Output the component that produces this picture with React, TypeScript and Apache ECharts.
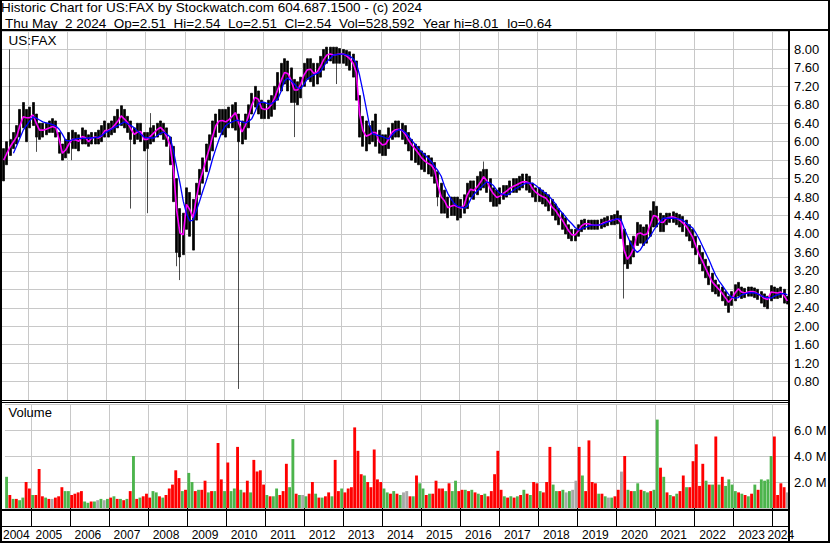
import React, { useEffect, useRef } from "react";
import * as echarts from "echarts";

// ---- categories: one per month, May 2004 .. May 2024 ----
const START_YEAR = 2004;
const START_MONTH = 5;
const MONTH_COUNT = 241;
const months: string[] = Array.from({ length: MONTH_COUNT }, (_, i) => {
  const t = START_MONTH - 1 + i;
  const y = START_YEAR + Math.floor(t / 12);
  const m = (t % 12) + 1;
  return `${y}-${m < 10 ? "0" + m : m}`;
});

// month at which each year's label is centred (visible part of the year)
const yearLabelMonths = [
  "2004-08", "2005-06", "2006-06", "2007-06", "2008-06", "2009-06", "2010-06",
  "2011-06", "2012-06", "2013-06", "2014-06", "2015-06", "2016-06", "2017-06",
  "2018-06", "2019-06", "2020-06", "2021-06", "2022-06", "2023-06", "2024-03",
];

// ---- monthly price band ----
const hi = [
  5.85, 6.0, 6.05, 6.2, 6.35, 6.7, 6.85, 6.7,
  6.75, 6.85, 6.6, 6.4, 6.4, 6.4, 6.45, 6.5, 6.45, 6.2, 5.95, 6.05,
  6.2, 6.25, 6.2, 6.15, 6.3, 6.25, 6.15, 6.2, 6.2, 6.25, 6.35, 6.45,
  6.4, 6.45, 6.55, 6.7, 6.78, 6.7, 6.55, 6.45, 6.3, 6.4, 6.4, 6.2,
  6.2, 6.3, 6.35, 6.4, 6.45, 6.4, 6.3, 6.1, 5.9, 5.2, 4.55, 4.45,
  5.0, 4.9, 4.75, 5.1, 5.4, 5.65, 5.95, 6.15, 6.45, 6.6, 6.7, 6.7,
  6.7, 6.75, 6.8, 6.85, 6.6, 6.45, 6.6, 6.8, 7.05, 7.2, 7.1, 6.9,
  6.85, 6.9, 7.0, 7.2, 7.5, 7.7, 7.8, 7.75, 7.6, 7.35, 7.3, 7.4,
  7.7, 7.8, 7.8, 7.7, 7.7, 7.85, 8.0, 8.05, 8.05, 8.05, 8.05, 8.02,
  8.0, 7.98, 7.95, 7.9, 7.75, 7.0, 6.55, 6.45, 6.35, 6.45, 6.6, 6.25,
  6.15, 6.15, 6.3, 6.4, 6.45, 6.45, 6.4, 6.35, 6.2, 6.05, 5.95, 5.9,
  5.8, 5.75, 5.7, 5.65, 5.55, 5.35, 5.1, 4.95, 4.8, 4.8, 4.8, 4.8,
  4.75, 4.85, 5.1, 5.15, 5.15, 5.25, 5.35, 5.4, 5.4, 5.2, 5.0, 4.95,
  5.0, 5.05, 5.05, 5.15, 5.2, 5.2, 5.25, 5.3, 5.3, 5.25, 5.1, 5.0,
  5.0, 4.95, 4.9, 4.85, 4.75, 4.65, 4.55, 4.45, 4.35, 4.2, 4.1, 4.1,
  4.2, 4.3, 4.32, 4.3, 4.3, 4.3, 4.3, 4.32, 4.35, 4.38, 4.4, 4.42,
  4.5, 4.4, 4.1, 3.75, 3.85, 3.95, 4.25, 4.2, 4.15, 4.2, 4.5, 4.7,
  4.6, 4.45, 4.4, 4.45, 4.45, 4.48, 4.45, 4.42, 4.38, 4.3, 4.2, 4.1,
  3.95, 3.75, 3.6, 3.45, 3.3, 3.15, 3.0, 2.9, 2.85, 2.75, 2.65, 2.75,
  2.9, 2.95, 2.85, 2.82, 2.85, 2.85, 2.83, 2.8, 2.75, 2.7, 2.65, 2.88,
  2.85, 2.82, 2.85, 2.8, 2.65,
];
const lo = [
  5.15, 5.5, 5.7, 5.85, 5.95, 6.1, 6.3, 6.0,
  6.3, 6.35, 6.1, 6.05, 6.1, 6.15, 6.2, 6.2, 6.1, 5.75, 5.6, 5.65,
  5.75, 5.85, 5.85, 5.8, 5.95, 5.95, 5.9, 5.95, 5.95, 5.95, 6.0, 6.1,
  6.1, 6.15, 6.2, 6.3, 6.35, 6.3, 6.2, 6.05, 5.95, 6.05, 6.0, 5.8,
  5.85, 5.95, 6.0, 6.1, 6.15, 6.05, 5.9, 5.5, 4.7, 3.6, 3.5, 3.55,
  4.1, 3.95, 3.65, 4.3, 4.85, 5.1, 5.35, 5.6, 5.8, 6.1, 6.2, 6.15,
  6.1, 6.3, 6.3, 6.25, 6.0, 5.95, 6.05, 6.3, 6.6, 6.75, 6.6, 6.5,
  6.5, 6.5, 6.55, 6.7, 6.9, 7.1, 7.25, 7.1, 6.85, 6.85, 6.8, 6.95,
  7.2, 7.35, 7.3, 7.2, 7.25, 7.4, 7.55, 7.7, 7.75, 7.7, 7.7, 7.7,
  7.7, 7.65, 7.55, 7.4, 6.9, 6.1, 5.9, 5.8, 5.95, 6.0, 5.9, 5.75,
  5.7, 5.7, 5.85, 6.05, 6.1, 6.1, 6.05, 5.95, 5.8, 5.6, 5.55, 5.5,
  5.4, 5.35, 5.3, 5.25, 5.1, 4.8, 4.45, 4.45, 4.35, 4.4, 4.4, 4.3,
  4.35, 4.45, 4.55, 4.8, 4.75, 4.85, 4.95, 5.0, 4.9, 4.7, 4.6, 4.6,
  4.65, 4.75, 4.8, 4.85, 4.9, 4.9, 4.95, 5.0, 4.95, 4.9, 4.8, 4.7,
  4.7, 4.65, 4.6, 4.5, 4.4, 4.3, 4.2, 4.1, 4.0, 3.9, 3.85, 3.85,
  3.95, 4.05, 4.1, 4.1, 4.1, 4.1, 4.1, 4.12, 4.15, 4.18, 4.2, 4.2,
  4.22, 3.9, 3.35, 3.25, 3.35, 3.5, 3.75, 3.8, 3.75, 3.8, 3.95, 4.15,
  4.15, 4.05, 4.05, 4.2, 4.25, 4.25, 4.2, 4.15, 4.05, 3.95, 3.85, 3.7,
  3.55, 3.35, 3.2, 3.05, 2.9, 2.75, 2.7, 2.65, 2.55, 2.45, 2.3, 2.45,
  2.55, 2.65, 2.6, 2.62, 2.65, 2.65, 2.62, 2.58, 2.5, 2.42, 2.38, 2.55,
  2.6, 2.6, 2.62, 2.5, 2.48,
];
// isolated one-day spikes: [month index, price]
const spikeLow: [number, number][] = [
  [10, 5.78], [21, 5.6], [39, 4.55], [44, 4.45], [53, 3.3], [54, 3.0],
  [72, 0.64], [89, 6.1], [102, 7.25], [133, 4.6], [190, 2.6],
];
const spikeHigh: [number, number][] = [[2, 8.0], [45, 6.62], [147, 5.57]];

// short moving average (magenta)
const maShort = [
  5.60, 5.75, 5.89, 6.00, 6.11, 6.35, 6.54, 6.52,
  6.52, 6.58, 6.40, 6.25, 6.25, 6.27, 6.30, 6.33, 6.30, 6.05, 5.75, 5.82,
  5.95, 6.05, 6.04, 6.01, 6.11, 6.09, 6.00, 6.08, 6.10, 6.08, 6.12, 6.24,
  6.25, 6.28, 6.36, 6.45, 6.56, 6.49, 6.41, 6.27, 6.16, 6.21, 6.22, 6.05,
  6.05, 6.12, 6.19, 6.26, 6.31, 6.24, 6.10, 5.91, 5.40, 4.50, 4.02, 3.98,
  4.64, 4.53, 4.35, 4.77, 5.13, 5.36, 5.62, 5.85, 6.12, 6.35, 6.45, 6.46,
  6.43, 6.48, 6.55, 6.63, 6.40, 6.21, 6.35, 6.56, 6.80, 6.96, 6.92, 6.72,
  6.70, 6.72, 6.80, 6.95, 7.14, 7.33, 7.50, 7.48, 7.34, 7.12, 7.12, 7.25,
  7.45, 7.56, 7.57, 7.48, 7.51, 7.63, 7.78, 7.88, 7.90, 7.88, 7.89, 7.90,
  7.90, 7.86, 7.80, 7.70, 7.50, 6.60, 6.24, 6.12, 6.15, 6.20, 6.20, 6.00,
  5.93, 5.95, 6.07, 6.21, 6.26, 6.27, 6.25, 6.16, 6.03, 5.93, 5.84, 5.75,
  5.65, 5.58, 5.53, 5.49, 5.38, 5.05, 4.80, 4.72, 4.57, 4.60, 4.62, 4.59,
  4.56, 4.62, 4.85, 4.97, 4.94, 5.02, 5.12, 5.24, 5.15, 4.98, 4.87, 4.79,
  4.82, 4.88, 4.93, 4.99, 5.03, 5.06, 5.10, 5.13, 5.13, 5.10, 4.98, 4.90,
  4.85, 4.81, 4.78, 4.69, 4.58, 4.51, 4.40, 4.31, 4.19, 4.07, 3.98, 3.98,
  4.07, 4.18, 4.22, 4.22, 4.20, 4.19, 4.19, 4.21, 4.25, 4.27, 4.29, 4.31,
  4.33, 4.25, 3.65, 3.45, 3.55, 3.70, 4.00, 4.02, 3.98, 4.00, 4.20, 4.40,
  4.38, 4.26, 4.25, 4.34, 4.36, 4.37, 4.34, 4.30, 4.24, 4.17, 4.05, 3.93,
  3.74, 3.55, 3.41, 3.25, 3.10, 2.96, 2.88, 2.80, 2.72, 2.62, 2.52, 2.60,
  2.72, 2.81, 2.74, 2.72, 2.74, 2.75, 2.74, 2.70, 2.66, 2.60, 2.58, 2.74,
  2.73, 2.72, 2.74, 2.66, 2.55,
];
// long moving average (blue)
const maLong = [
  null, null, null, 5.75, 5.91, 6.08, 6.25, 6.35,
  6.45, 6.54, 6.51, 6.47, 6.43, 6.41, 6.39, 6.37, 6.34, 6.27, 6.16, 6.03,
  6.02, 6.04, 6.06, 6.07, 6.07, 6.07, 6.08, 6.08, 6.09, 6.10, 6.13, 6.19,
  6.23, 6.27, 6.31, 6.35, 6.39, 6.43, 6.39, 6.35, 6.30, 6.23, 6.16, 6.10,
  6.09, 6.08, 6.08, 6.13, 6.18, 6.21, 6.16, 6.10, 5.80, 5.45, 5.10, 4.71,
  4.44, 4.28, 4.30, 4.50, 4.71, 4.93, 5.14, 5.37, 5.63, 5.85, 6.06, 6.24,
  6.35, 6.40, 6.43, 6.46, 6.46, 6.43, 6.41, 6.44, 6.50, 6.65, 6.83, 6.86,
  6.85, 6.82, 6.82, 6.87, 6.93, 7.10, 7.32, 7.38, 7.32, 7.25, 7.17, 7.15,
  7.25, 7.36, 7.41, 7.45, 7.48, 7.52, 7.63, 7.74, 7.81, 7.88, 7.89, 7.90,
  7.90, 7.88, 7.86, 7.80, 7.71, 7.44, 7.10, 6.74, 6.37, 6.17, 6.15, 6.13,
  6.11, 6.08, 6.06, 6.15, 6.22, 6.26, 6.25, 6.20, 6.12, 6.03, 5.94, 5.85,
  5.78, 5.71, 5.64, 5.57, 5.46, 5.37, 5.25, 5.04, 4.88, 4.76, 4.66, 4.60,
  4.58, 4.56, 4.60, 4.75, 4.86, 4.93, 5.00, 5.07, 5.13, 5.10, 5.05, 4.95,
  4.88, 4.86, 4.84, 4.88, 4.94, 4.99, 5.03, 5.07, 5.10, 5.10, 5.10, 5.05,
  4.99, 4.93, 4.88, 4.82, 4.74, 4.65, 4.54, 4.46, 4.38, 4.29, 4.22, 4.14,
  4.09, 4.11, 4.14, 4.17, 4.19, 4.19, 4.19, 4.20, 4.23, 4.26, 4.28, 4.31,
  4.33, 4.32, 4.13, 3.96, 3.80, 3.68, 3.60, 3.66, 3.78, 3.86, 3.95, 4.07,
  4.18, 4.26, 4.34, 4.34, 4.34, 4.34, 4.33, 4.32, 4.30, 4.24, 4.18, 4.13,
  4.02, 3.89, 3.74, 3.59, 3.44, 3.27, 3.11, 2.99, 2.89, 2.79, 2.69, 2.63,
  2.61, 2.62, 2.68, 2.70, 2.72, 2.73, 2.72, 2.70, 2.66, 2.63, 2.62, 2.61,
  2.65, 2.68, 2.70, 2.71, 2.68,
];

// ---- monthly volume, millions ----
const volume = [
  2.4, 1.0, 0.7, 0.7, 0.6, 0.8, 2.0, 1.5,
  1.0, 1.0, 3.0, 0.9, 0.8, 0.7, 0.7, 0.8, 0.9, 1.6, 1.3, 1.3,
  1.0, 1.1, 1.2, 1.3, 0.5, 0.4, 0.5, 0.5, 0.6, 0.7, 0.6, 0.7,
  0.8, 0.9, 0.7, 0.7, 0.6, 0.7, 1.3, 4.0, 0.7, 0.8, 0.9, 1.1,
  0.8, 1.3, 1.2, 0.9, 0.8, 1.0, 1.5, 1.8, 2.9, 2.3, 1.3, 1.4,
  2.7, 2.0, 1.3, 1.4, 1.4, 2.1, 1.2, 1.3, 1.3, 5.0, 2.2, 1.3,
  3.5, 1.3, 1.5, 4.7, 1.4, 1.2, 2.1, 1.2, 3.7, 2.8, 2.9, 1.8,
  1.0, 0.9, 0.9, 1.5, 1.0, 1.3, 3.4, 1.6, 5.3, 1.1, 1.0, 1.0,
  0.9, 1.1, 2.0, 1.1, 0.8, 0.8, 0.9, 1.2, 0.9, 3.7, 1.3, 1.5,
  1.2, 1.5, 1.6, 6.2, 4.4, 2.6, 2.5, 2.0, 1.6, 4.5, 2.2, 2.0,
  1.5, 1.2, 1.1, 1.3, 1.1, 1.0, 1.2, 1.3, 0.9, 0.9, 2.5, 1.9,
  1.5, 1.0, 1.1, 1.1, 2.1, 1.5, 1.5, 1.3, 1.9, 1.3, 2.1, 1.3,
  1.4, 1.4, 1.3, 1.4, 1.2, 1.1, 1.0, 1.1, 0.9, 1.3, 2.6, 4.4,
  1.4, 0.9, 0.8, 0.9, 0.8, 0.9, 1.0, 1.4, 1.1, 1.0, 2.0, 1.9,
  1.3, 1.2, 2.0, 4.7, 1.8, 1.3, 1.3, 1.4, 1.2, 1.3, 1.4, 2.1,
  4.7, 2.5, 1.3, 5.2, 2.0, 1.9, 1.1, 1.1, 0.9, 0.8, 0.8, 0.9,
  1.4, 2.8, 4.0, 1.4, 1.3, 1.3, 1.9, 1.4, 1.3, 1.2, 1.3, 1.4,
  6.8, 3.1, 2.4, 1.2, 1.0, 0.9, 1.1, 1.3, 2.5, 1.6, 1.6, 3.6,
  4.9, 1.7, 3.4, 2.1, 1.8, 1.8, 5.5, 1.8, 2.4, 1.7, 2.2, 1.8,
  1.3, 1.2, 1.1, 1.0, 0.9, 1.1, 1.8, 1.4, 2.2, 2.1, 2.2, 4.0,
  5.5, 1.0, 1.9, 1.6, 1.2,
];
// r = down (red), g = up (green), k = unchanged (grey)
const volumeTone =
  "grgrggrr" + "grrrgrkrrrgg" + "rrrrggrgkgkg" + "rgrgrgrgrgrr" + "rggrgrrrrrgr" +
  "ggrgrrgrgrrg" + "rggrgrrgrrrr" + "grggrrrggrgk" + "grrgrgrrgrrg" + "rrrrrrgrrrrr" +
  "ggrgrgkkrgrg" + "grgrrrrgrggr" + "rgrgrgrgrrrr" + "rgrgrgrgrgrr" + "grrrggrgkgkk" +
  "rgrrrrgrgkgr" + "rkrgrggrggrg" + "grgrgrgrrgrr" + "rrrgrgrgrggg" + "grgrgrgrgggg" + "rrrrk";

// header texts and their left edges
const headerLine1 = "Historic Chart for US:FAX by Stockwatch.com 604.687.1500 - (c) 2024";
const headerLine2: [string, number][] = [
  ["Thu May", 5], ["2 2024", 65], ["Op=2.51", 113.8], ["Hi=2.54", 173.5],
  ["Lo=2.51", 227.9], ["Cl=2.54", 284.6], ["Vol=528,592", 339],
  ["Year hi=8.01", 422.7], ["lo=0.64", 507.2],
];

const TONE: Record<string, string> = { r: "#ff0000", g: "#4cb44c", k: "#a8a8a8" };
const FONT_NAME = "Arial, Liberation Sans, sans-serif";
const GRID = "#c8c8c8";

export default function App() {
  const ref = useRef<HTMLDivElement>(null);

  useEffect(() => {
    if (!ref.current) return;
    const chart = echarts.init(ref.current, null, { renderer: "svg" });

    const lowMap: Record<number, number> = {};
    spikeLow.forEach(([i, v]) => (lowMap[i] = v));
    const highMap: Record<number, number> = {};
    spikeHigh.forEach(([i, v]) => (highMap[i] = v));

    const ohlc = months.map((_, i) => [
      lo[i],
      hi[i],
      Math.min(lo[i], lowMap[i] ?? lo[i]),
      Math.max(hi[i], highMap[i] ?? hi[i]),
    ]);
    const volData = volume.map((v, i) => ({
      value: v,
      itemStyle: { color: TONE[volumeTone[i]] || TONE.k },
    }));

    const isJan = (_: number, v: string) => v.endsWith("-01");
    const isLabel = (_: number, v: string) => yearLabelMonths.includes(v);

    const rect = (x: number, y: number, w: number, h: number) => ({
      type: "rect",
      shape: { x, y, width: w, height: h },
      style: { fill: "#000" },
      z: 100,
      silent: true,
    });
    const title = (text: string, left: number, top: number, size = 13.5) => ({
      text,
      left,
      top,
      padding: 0,
      itemGap: 0,
      textStyle: {
        fontSize: size,
        fontFamily: FONT_NAME,
        fontWeight: "normal",
        color: "#000",
      },
    });

    chart.setOption({
      animation: false,
      backgroundColor: "#fff",
      title: [
        title(headerLine1, 1, 0),
        ...headerLine2.map(([t, x]) => title(t, x, 16)),
        title("US:FAX", 8.5, 33.5),
        title("Volume", 8.5, 405.5, 13),
      ],
      grid: [
        { left: 2, top: 31, width: 787, height: 369 },
        { left: 2, top: 404, width: 787, height: 104 },
      ],
      xAxis: [
        {
          type: "category",
          gridIndex: 0,
          data: months,
          boundaryGap: true,
          axisLine: { show: false },
          axisTick: { show: false },
          axisLabel: { show: false },
          splitLine: { show: true, interval: isJan, lineStyle: { color: GRID, width: 1 } },
        },
        {
          type: "category",
          gridIndex: 1,
          data: months,
          boundaryGap: true,
          axisLine: { show: false },
          axisTick: {
            show: true,
            interval: isJan,
            length: 18,
            lineStyle: { color: "#000", width: 1 },
          },
          axisLabel: {
            show: true,
            interval: isLabel,
            formatter: (v: string) => v.slice(0, 4),
            color: "#000",
            fontSize: 12,
            fontFamily: FONT_NAME,
            margin: 21,
          },
          splitLine: { show: true, interval: isJan, lineStyle: { color: GRID, width: 1 } },
        },
      ],
      yAxis: [
        {
          type: "value",
          gridIndex: 0,
          position: "right",
          min: 0.4,
          max: 8.4,
          interval: 0.4,
          axisLine: { show: false },
          axisTick: { show: false },
          axisLabel: {
            formatter: (v: number) => (v < 0.6 || v > 8.2 ? "" : v.toFixed(2)),
            color: "#000",
            fontSize: 13,
            fontFamily: FONT_NAME,
            margin: 5,
            padding: [0, 0, 3, 0],
          },
          splitLine: { lineStyle: { color: GRID, width: 1 } },
        },
        {
          type: "value",
          gridIndex: 1,
          position: "right",
          min: 0,
          max: 8,
          interval: 2,
          axisLine: { show: false },
          axisTick: { show: false },
          axisLabel: {
            formatter: (v: number) => (v > 0 && v < 8 ? v.toFixed(1) + " M" : ""),
            color: "#000",
            fontSize: 13,
            fontFamily: FONT_NAME,
            margin: 5,
          },
          splitLine: { lineStyle: { color: GRID, width: 1 } },
        },
      ],
      series: [
        {
          type: "candlestick",
          xAxisIndex: 0,
          yAxisIndex: 0,
          data: ohlc,
          barWidth: 2.5,
          silent: true,
          itemStyle: {
            color: "#000",
            color0: "#000",
            borderColor: "#000",
            borderColor0: "#000",
            borderWidth: 0.7,
          },
        },
        {
          type: "line",
          xAxisIndex: 0,
          yAxisIndex: 0,
          data: maShort,
          symbol: "none",
          silent: true,
          lineStyle: { color: "#ff00ff", width: 1.6 },
        },
        {
          type: "line",
          xAxisIndex: 0,
          yAxisIndex: 0,
          data: maLong,
          symbol: "none",
          silent: true,
          lineStyle: { color: "#0000ff", width: 1.3 },
        },
        {
          type: "bar",
          xAxisIndex: 1,
          yAxisIndex: 1,
          data: volData,
          barCategoryGap: "12%",
          silent: true,
        },
      ],
      graphic: {
        elements: [
          rect(0, 0, 830, 1),
          rect(0, 29, 830, 2),
          rect(0, 0, 2, 543),
          rect(828, 0, 2, 543),
          rect(788, 29, 2, 514),
          rect(0, 400, 789, 1),
          rect(0, 402, 789, 1),
          rect(0, 509, 789, 2),
          rect(0, 526, 789, 1),
          rect(0, 541, 830, 2),
        ],
      },
    });

    return () => chart.dispose();
  }, []);

  return (
    <div
      ref={ref}
      style={{ position: "absolute", left: 0, top: 0, width: 830, height: 543, background: "#fff" }}
    />
  );
}
